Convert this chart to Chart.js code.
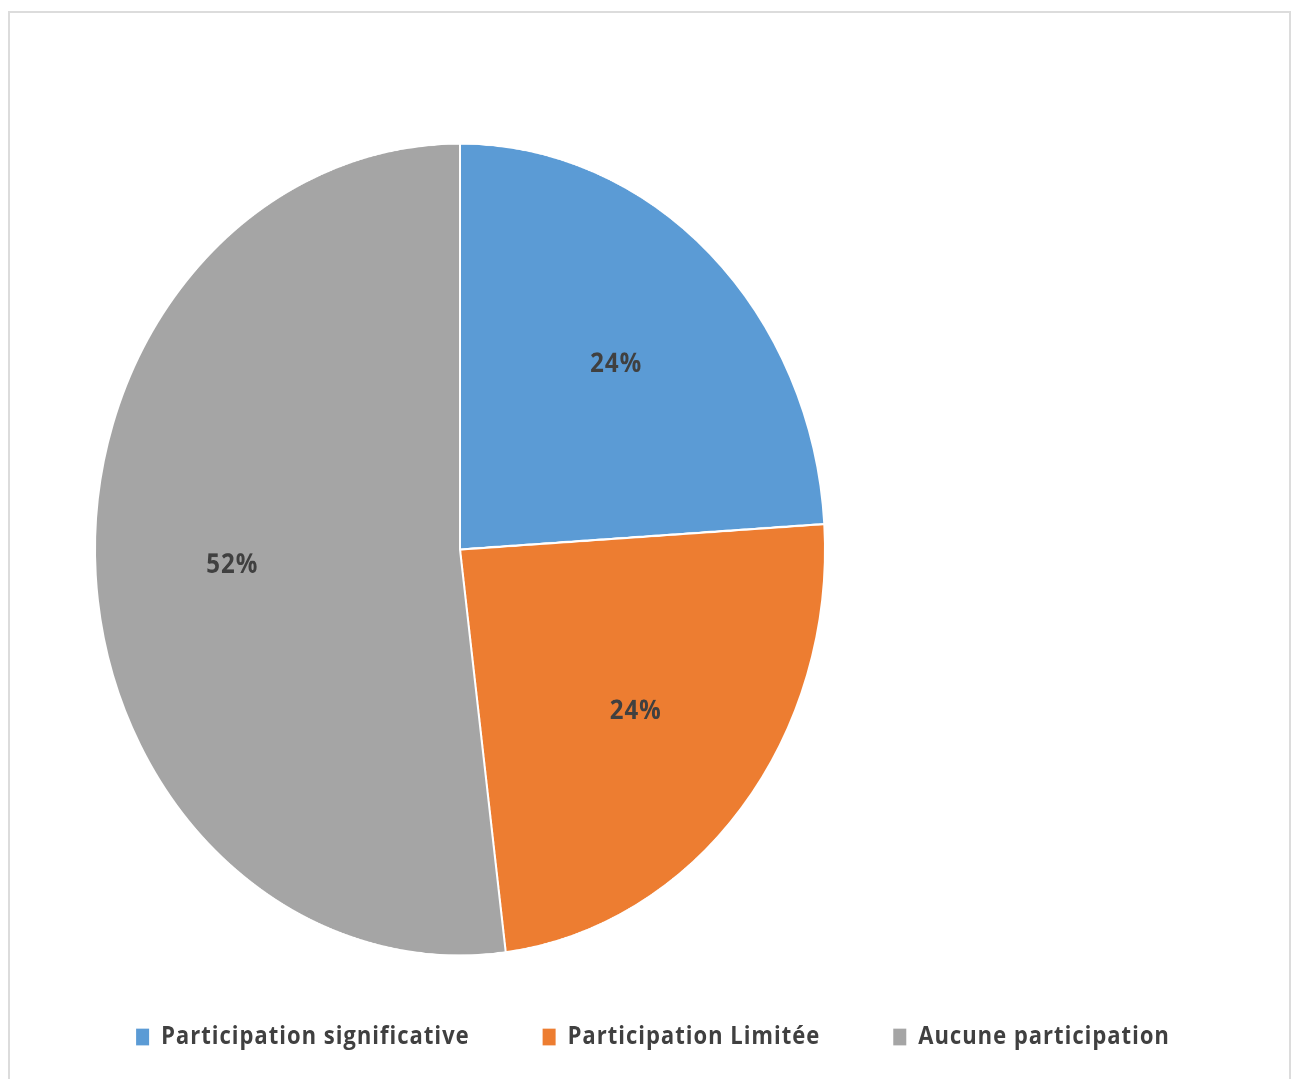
<!DOCTYPE html>
<html lang="fr">
<head>
<meta charset="utf-8">
<title>Participation</title>
<script src="https://cdn.jsdelivr.net/npm/chart.js@4.4.1/dist/chart.umd.min.js"></script>
<style>
  html, body { margin: 0; padding: 0; background: #ffffff; }
  body { width: 1295px; height: 1079px; overflow: hidden; position: relative; }
  #frame {
    position: absolute; left: 8px; top: 11px; width: 1283px; height: 1100px;
    border: 2px solid #dcdcdc; box-sizing: border-box;
  }
  /* the drawing is stretched vertically, as in the published figure */
  #stage {
    position: absolute; left: 0; top: 0; width: 1295px; height: 970px;
    transform: scaleY(1.11237); transform-origin: 0 0;
  }
</style>
</head>
<body>
<div id="frame"></div>
<div id="stage"><canvas id="chart"></canvas></div>
<script>
// Categories and their shares (percent)
const categories = ['Participation significative', 'Participation Limitée', 'Aucune participation'];
const shares = [24, 24, 52];

// Slightly loose letter spacing for all text drawn on the canvas
const looseText = {
  id: 'looseText',
  beforeLayout(chart) { chart.ctx.letterSpacing = '1px'; },
  beforeDraw(chart) { chart.ctx.letterSpacing = '1px'; }
};

// Writes each slice's percentage inside it, along the slice's middle angle
const sliceLabels = {
  id: 'sliceLabels',
  afterDatasetsDraw(chart) {
    const ctx = chart.ctx;
    const meta = chart.getDatasetMeta(0);
    ctx.save();
    ctx.letterSpacing = '1px';
    ctx.font = 'bold 24px "Open Sans"';
    ctx.fillStyle = '#404040';
    ctx.textAlign = 'center';
    ctx.textBaseline = 'middle';
    meta.data.forEach((arc, i) => {
      const p = arc.getProps(['x', 'y', 'startAngle', 'endAngle', 'outerRadius'], true);
      const mid = (p.startAngle + p.endAngle) / 2;
      const r = p.outerRadius * 0.625;
      ctx.fillText(shares[i] + '%', p.x + Math.cos(mid) * r, p.y + Math.sin(mid) * r);
    });
    ctx.restore();
  }
};

new Chart(document.getElementById('chart'), {
  type: 'pie',
  data: {
    labels: categories,
    datasets: [{
      data: shares,
      backgroundColor: ['#5B9BD5', '#ED7D31', '#A5A5A5'],
      borderColor: '#ffffff',
      borderWidth: 2,
      radius: 365,
      clip: false
    }]
  },
  options: {
    responsive: true,
    maintainAspectRatio: false,
    devicePixelRatio: 2,
    animation: false,
    events: [],
    layout: { padding: { top: 138.7, bottom: 16.7, left: 10, right: 0 } },
    plugins: {
      tooltip: { enabled: false },
      // empty right-hand box: keeps the pie on the left part of the figure
      title: {
        display: true, text: '', position: 'right',
        padding: { top: 0, bottom: 384 }, font: { size: 1, lineHeight: 1 }
      },
      legend: {
        position: 'bottom',
        labels: {
          color: '#404040',
          font: { family: '"Open Sans"', size: 22, weight: 'bold' },
          boxWidth: 15,
          boxHeight: 17,
          padding: 72
        }
      }
    }
  },
  plugins: [looseText, sliceLabels]
});
</script>
</body>
</html>
